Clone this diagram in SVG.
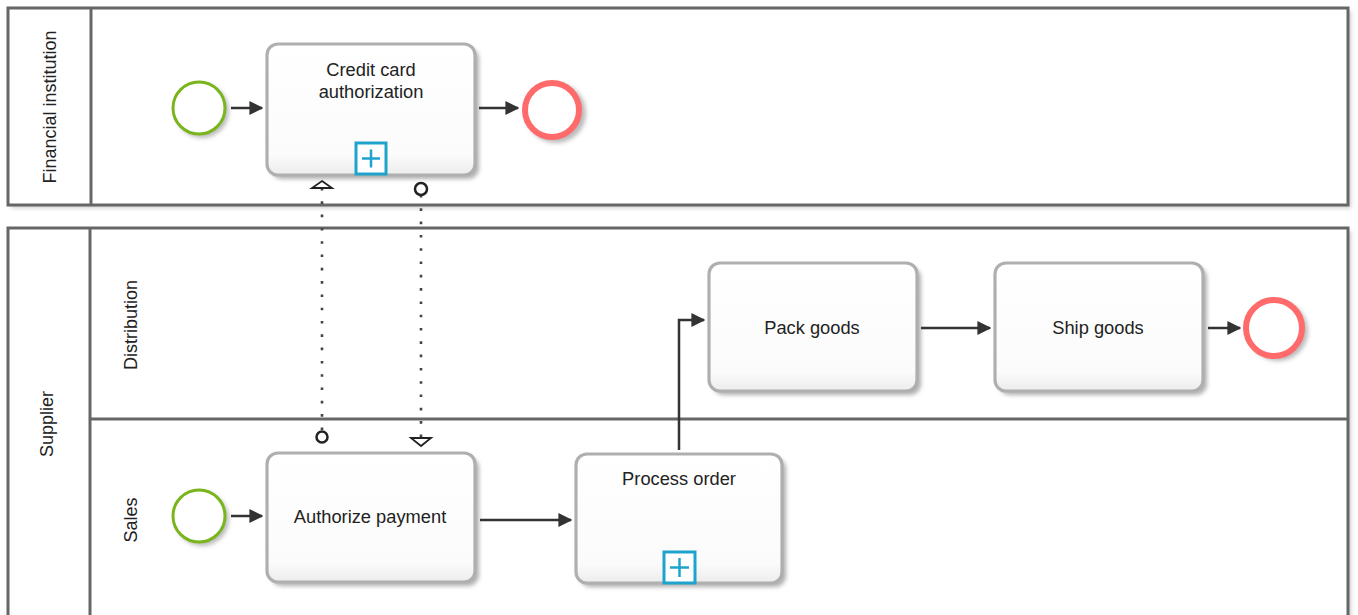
<svg xmlns="http://www.w3.org/2000/svg" width="1358" height="615" viewBox="0 0 1358 615">
<defs>
<style>
.pool{fill:#fff;stroke:#666;stroke-width:3}
.div{stroke:#666;stroke-width:3;fill:none}
.lbl{font-family:"Liberation Sans",Arial,sans-serif;font-size:18px;fill:#222;text-anchor:middle}
.txt{font-family:"Liberation Sans",Arial,sans-serif;font-size:18.3px;fill:#222;text-anchor:middle}
.task{fill:url(#tg);stroke:#afafaf;stroke-width:3.2}
.tshadow{fill:#b0b0b0;filter:url(#blur)}
.start{fill:#fff;stroke:#7ab51d;stroke-width:3}
.end{fill:#fff;stroke:#ff6b6b;stroke-width:6}
.eshadow{fill:#bbb;filter:url(#blur)}
.seq{stroke:#333;stroke-width:2.5;fill:none;marker-end:url(#arr)}
.msg{stroke:#444;stroke-width:2.6;fill:none;stroke-dasharray:2.6 10.7}
.mcirc{fill:#fff;stroke:#222;stroke-width:2.5}
.mtri{fill:#fff;stroke:#222;stroke-width:1.8}
.plus{fill:#fff;stroke:#1ea3cc;stroke-width:3}
.plusl{stroke:#1ea3cc;stroke-width:2.5}
</style>
<linearGradient id="tg" x1="0" y1="0" x2="0" y2="1">
<stop offset="0" stop-color="#ffffff"/>
<stop offset="0.85" stop-color="#fbfbfb"/>
<stop offset="1" stop-color="#ececec"/>
</linearGradient>
<filter id="blur" x="-20%" y="-20%" width="140%" height="140%"><feGaussianBlur stdDeviation="2"/></filter>
<marker id="arr" viewBox="0 0 10 10" refX="9" refY="5" markerWidth="5.6" markerHeight="5.6" orient="auto" markerUnits="strokeWidth">
<path d="M0,0 L10,5 L0,10 z" fill="#333"/>
</marker>
</defs>

<g id="pool-financial">
<rect x="11" y="11" width="1340" height="197" fill="#ccc" filter="url(#blur)"/>
<rect class="pool" x="8" y="8" width="1340" height="197"/>
<line class="div" x1="91" y1="8" x2="91" y2="205"/>
<text class="lbl" transform="translate(56,107) rotate(-90)">Financial institution</text>
</g>

<g id="pool-supplier">
<rect x="11" y="231" width="1340" height="420" fill="#ccc" filter="url(#blur)"/>
<rect class="pool" x="8" y="228" width="1340" height="420"/>
<line class="div" x1="90" y1="228" x2="90" y2="615"/>
<line class="div" x1="90" y1="419" x2="1348" y2="419"/>
<text class="lbl" transform="translate(53,424) rotate(-90)">Supplier</text>
</g>
<g id="lane-distribution"><text class="lbl" transform="translate(137,325) rotate(-90)">Distribution</text></g>
<g id="lane-sales"><text class="lbl" transform="translate(137,520) rotate(-90)">Sales</text></g>

<g id="start-fin">
<circle class="eshadow" cx="202" cy="111" r="27"/>
<circle class="start" cx="199" cy="108" r="26"/>
</g>
<g id="task-credit">
<rect class="tshadow" x="271" y="48" width="208" height="131" rx="11"/>
<rect class="task" x="267" y="44" width="208" height="131" rx="11"/>
<text class="txt" x="371" y="76">Credit card</text>
<text class="txt" x="371" y="98">authorization</text>
<rect class="plus" x="356" y="143" width="30" height="31"/>
<line class="plusl" x1="362" y1="158.5" x2="380" y2="158.5"/>
<line class="plusl" x1="371" y1="149.5" x2="371" y2="167.5"/>
</g>
<g id="end-fin">
<circle class="eshadow" cx="556" cy="113" r="30"/>
<circle class="end" cx="552" cy="110" r="27"/>
</g>

<g id="task-pack">
<rect class="tshadow" x="713" y="267" width="208" height="128" rx="11"/>
<rect class="task" x="709" y="263" width="208" height="128" rx="11"/>
<text class="txt" x="812" y="334">Pack goods</text>
</g>
<g id="task-ship">
<rect class="tshadow" x="999" y="267" width="208" height="128" rx="11"/>
<rect class="task" x="995" y="263" width="208" height="128" rx="11"/>
<text class="txt" x="1098" y="334">Ship goods</text>
</g>
<g id="end-dist">
<circle class="eshadow" cx="1278" cy="331" r="30"/>
<circle class="end" cx="1274" cy="328" r="28"/>
</g>

<g id="start-sales">
<circle class="eshadow" cx="202" cy="519" r="27"/>
<circle class="start" cx="199" cy="516" r="26"/>
</g>
<g id="task-authorize">
<rect class="tshadow" x="271" y="457" width="208" height="129" rx="11"/>
<rect class="task" x="267" y="453" width="208" height="129" rx="11"/>
<text class="txt" x="370" y="523">Authorize payment</text>
</g>
<g id="task-process">
<rect class="tshadow" x="580" y="458" width="206" height="129" rx="11"/>
<rect class="task" x="576" y="454" width="206" height="129" rx="11"/>
<text class="txt" x="679" y="485">Process order</text>
<rect class="plus" x="664" y="552" width="31" height="31"/>
<line class="plusl" x1="670" y1="567.5" x2="689" y2="567.5"/>
<line class="plusl" x1="679.5" y1="558" x2="679.5" y2="577"/>
</g>

<g id="connectors">
<path class="seq" d="M231,108 H262"/>
<path class="seq" d="M479,108 H518"/>
<path class="seq" d="M231,516 H262"/>
<path class="seq" d="M480,520 H571"/>
<path class="seq" d="M679,450 V320 H704"/>
<path class="seq" d="M921,328 H990"/>
<path class="seq" d="M1208,328 H1240"/>
<path class="msg" d="M322,430 V188"/>
<circle class="mcirc" cx="322" cy="437" r="5.5"/>
<path class="mtri" d="M322,181 L332,188 L312,188 z"/>
<path class="msg" d="M421,195 V438"/>
<circle class="mcirc" cx="421" cy="189" r="6"/>
<path class="mtri" d="M421,446 L411,438 L431,438 z"/>
</g>
</svg>
